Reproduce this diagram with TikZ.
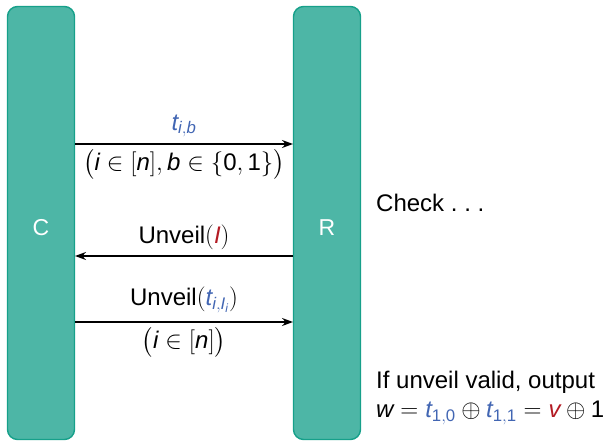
\documentclass[tikz,border=0pt]{standalone}
\usepackage{exscale}
\usepackage{fontspec}
\setmainfont{Liberation Sans}
\usetikzlibrary{arrows.meta}
\definecolor{boxfill}{HTML}{4DB6A6}
\definecolor{boxline}{HTML}{16A08A}
\definecolor{tblue}{HTML}{4266B3}
\definecolor{vred}{HTML}{B31B24}
\newcommand{\mv}[1]{\mathit{#1}}
\newcommand{\dg}[1]{\mathrm{#1}}
\newcommand{\tb}[1]{{\color{tblue}#1}}
\newcommand{\rd}[1]{{\color{vred}#1}}
\tikzset{
  party/.style={draw=boxline, fill=boxfill, line width=1.4pt, rounded corners=10pt},
  ptxt/.style={text=white, font=\fontsize{23}{27}\selectfont},
  lbl/.style={font=\fontsize{24}{25}\selectfont, inner sep=0pt},
  msg/.style={line width=1.4pt, -{Stealth[length=11pt,width=8pt]}},
}
\begin{document}
\begin{tikzpicture}[x=1pt,y=-1pt]
\useasboundingbox (0,0) rectangle (615,441);
\draw[party] (7.5,6.5) rectangle (74.5,439.5);
\draw[party] (293.5,6.5) rectangle (360.5,439.5);
\node[ptxt] (C) at (41,228) {C};
\node[ptxt] (R) at (327,228) {R};
\coordinate (a1) at (75,144); \coordinate (b1) at (293,144);
\coordinate (a2) at (75,256); \coordinate (b2) at (293,256);
\coordinate (a3) at (75,322); \coordinate (b3) at (293,322);
\draw[msg] (a1) -- (b1);
\draw[msg] (b2) -- (a2);
\draw[msg] (a3) -- (b3);
\node[lbl] (l1) at (184,126) {$\tb{\mv{t}_{\mv{i},\mv{b}}}$};
\node[lbl] (l2) at (184,164) {$\bigl(\mv{i}\in[\mv{n}],\mv{b}\in\{\dg{0},\dg{1}\}\bigr)$};
\node[lbl] (l3) at (184,237) {Unveil$($\rd{$\mv{I}$}$)$};
\node[lbl] (l4) at (184,300) {Unveil$(\tb{\mv{t}_{\mv{i},\mv{I}_{\mv{i}}}})$};
\node[lbl] (l5) at (184,342) {$\bigl(\mv{i}\in[\mv{n}]\bigr)$};
\node[lbl, anchor=west] (chk) at (376,203) {Check .\hspace{0.28em}.\hspace{0.28em}.};
\node[lbl, anchor=west, align=left] (out) at (376,398) {If unveil valid, output\\[4pt]
$\mv{w}=\tb{\mv{t}_{\dg{1},\dg{0}}}\oplus\tb{\mv{t}_{\dg{1},\dg{1}}}=\rd{\mv{v}}\oplus\dg{1}$};
\end{tikzpicture}
\end{document}
